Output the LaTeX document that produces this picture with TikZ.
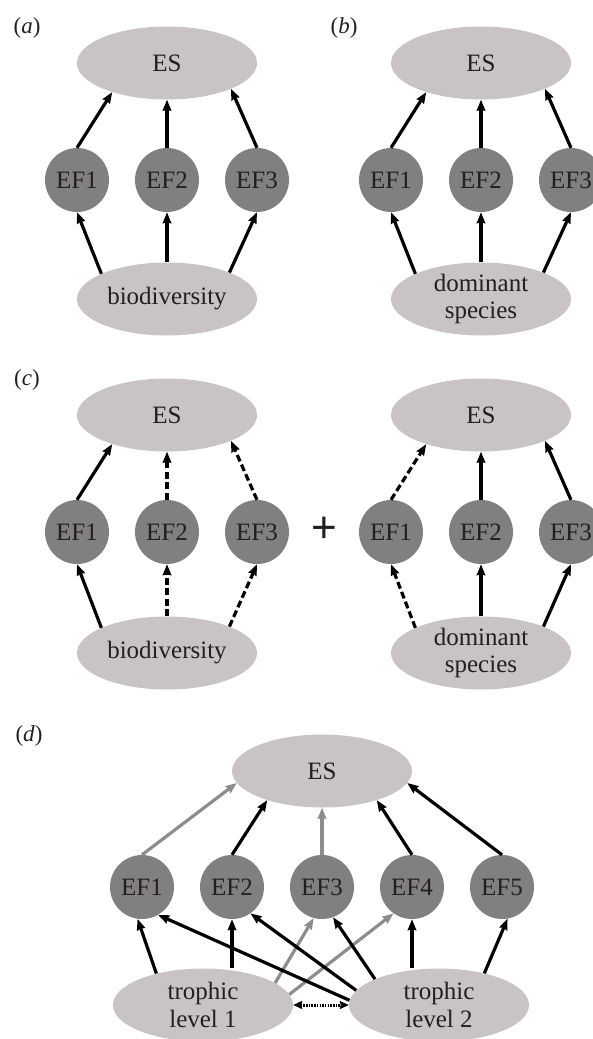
\documentclass[tikz,border=0pt]{standalone}
\usepackage{fontspec}
\setmainfont{Liberation Serif}
\newfontfamily\plusfont{Liberation Sans}
\usetikzlibrary{arrows.meta,shapes.geometric}
\definecolor{ellfill}{RGB}{201,195,195}
\definecolor{circfill}{RGB}{128,128,128}
\definecolor{txt}{RGB}{35,31,32}
\definecolor{garrow}{RGB}{140,140,140}
\begin{document}
\begin{tikzpicture}[x=1pt,y=-1pt,
  ell/.style={ellipse, fill=ellfill, draw=none, minimum width=180pt, minimum height=73pt, inner sep=0pt, text=txt, font=\fontsize{25}{27}\selectfont, align=center},
  efnode/.style={circle, fill=circfill, draw=none, minimum size=64pt, inner sep=0pt, text=txt, font=\fontsize{25}{27}\selectfont},
  arr/.style={line width=3.2pt, draw=black, -{Stealth[length=11pt,width=8.5pt,inset=1pt]}},
  darr/.style={arr, dash pattern=on 7pt off 3.5pt},
  garr/.style={arr, draw=garrow},
  dotarr/.style={line width=3pt, draw=black, dash pattern=on 1.5pt off 1.2pt, {Stealth[length=9pt,width=8pt,inset=1pt]}-{Stealth[length=9pt,width=8pt,inset=1pt]}},
  lab/.style={text=txt, font=\fontsize{23}{26}\selectfont, inner sep=0pt},
]
\useasboundingbox (0,0) rectangle (592,1039);

% ---------- (a)
\node[lab] (la) at (27,28) {(\textit{a})};
\node[ell] (esA) at (167,63) {ES};
\node[efnode] (a1) at (77,180) {EF1};
\node[efnode] (a2) at (167,180) {EF2};
\node[efnode] (a3) at (257,180) {EF3};
\node[ell] (bioA) at (167,299) {biodiversity};
\draw[arr] (a1.north) -- (esA.208);
\draw[arr] (a2) -- (esA);
\draw[arr] (a3.north) -- (esA.338);
\draw[arr] (bioA.159) -- (a1.south);
\draw[arr] (a2 |- bioA.north) -- (a2);
\draw[arr] (bioA.23) -- (a3.south);

% ---------- (b)
\node[lab] (lb) at (344,28) {(\textit{b})};
\node[ell] (esB) at (481,63) {ES};
\node[efnode] (b1) at (391,180) {EF1};
\node[efnode] (b2) at (481,180) {EF2};
\node[efnode] (b3) at (571,180) {EF3};
\node[ell] (domB) at (481,299) {dominant\\species};
\draw[arr] (b1.north) -- (esB.208);
\draw[arr] (b2) -- (esB);
\draw[arr] (b3.north) -- (esB.338);
\draw[arr] (domB.159) -- (b1.south);
\draw[arr] (b2 |- domB.north) -- (b2);
\draw[arr] (domB.23) -- (b3.south);

% ---------- (c)
\node[lab] (lc) at (27,380) {(\textit{c})};
\node[ell] (esC) at (167,415) {ES};
\node[efnode] (c1) at (77,532) {EF1};
\node[efnode] (c2) at (167,532) {EF2};
\node[efnode] (c3) at (257,532) {EF3};
\node[ell] (bioC) at (167,653) {biodiversity};
\draw[arr] (c1.north) -- (esC.208);
\draw[darr] (c2) -- (esC);
\draw[darr] (c3.north) -- (esC.338);
\draw[arr] (bioC.159) -- (c1.south);
\draw[darr] (c2 |- bioC.north) -- (c2);
\draw[darr] (bioC.23) -- (c3.south);

\node[text=txt, font=\plusfont\fontsize{44}{44}\selectfont, inner sep=0pt] (plus) at (324,530) {+};

\node[ell] (esD) at (481,415) {ES};
\node[efnode] (d1) at (391,532) {EF1};
\node[efnode] (d2) at (481,532) {EF2};
\node[efnode] (d3) at (571,532) {EF3};
\node[ell] (domC) at (481,653) {dominant\\species};
\draw[darr] (d1.north) -- (esD.208);
\draw[arr] (d2) -- (esD);
\draw[arr] (d3.north) -- (esD.338);
\draw[darr] (domC.159) -- (d1.south);
\draw[arr] (d2 |- domC.north) -- (d2);
\draw[arr] (domC.23) -- (d3.south);

% ---------- (d)
\node[lab] (ld) at (29,736) {(\textit{d})};
\node[ell] (esE) at (322,771) {ES};
\node[efnode] (e1) at (142,887) {EF1};
\node[efnode] (e2) at (232,887) {EF2};
\node[efnode] (e3) at (322,887) {EF3};
\node[efnode] (e4) at (412,887) {EF4};
\node[efnode] (e5) at (502,887) {EF5};
\node[ell, font=\fontsize{25}{28}\selectfont] (tl1) at (203,1005) {trophic\\level 1};
\node[ell, font=\fontsize{25}{28}\selectfont] (tl2) at (439,1005) {trophic\\level 2};

\draw[garr] (e1.north) -- (esE.188);
\draw[garr] (e3) -- (esE);
\draw[garr] (tl1.17) -- (e3.255);
\draw[garr] (tl1.7) -- (e4.235);

\draw[arr] (e2.north) -- (esE.208);
\draw[arr] (e4.north) -- (esE.332);
\draw[arr] (e5.north) -- (esE.352);
\draw[arr] (tl1.146) -- (e1.262);
\draw[arr] (e2 |- tl1.north) -- (e2);
\draw[arr] (tl2.177) -- (e1.300);
\draw[arr] (tl2.170) -- (e2.305);
\draw[arr] (tl2.158) -- (e3.290);
\draw[arr] (e4 |- tl2.north) -- (e4);
\draw[arr] (tl2.35) -- (e5.280);
\draw[dotarr] (tl1) -- (tl2);
\end{tikzpicture}
\end{document}
